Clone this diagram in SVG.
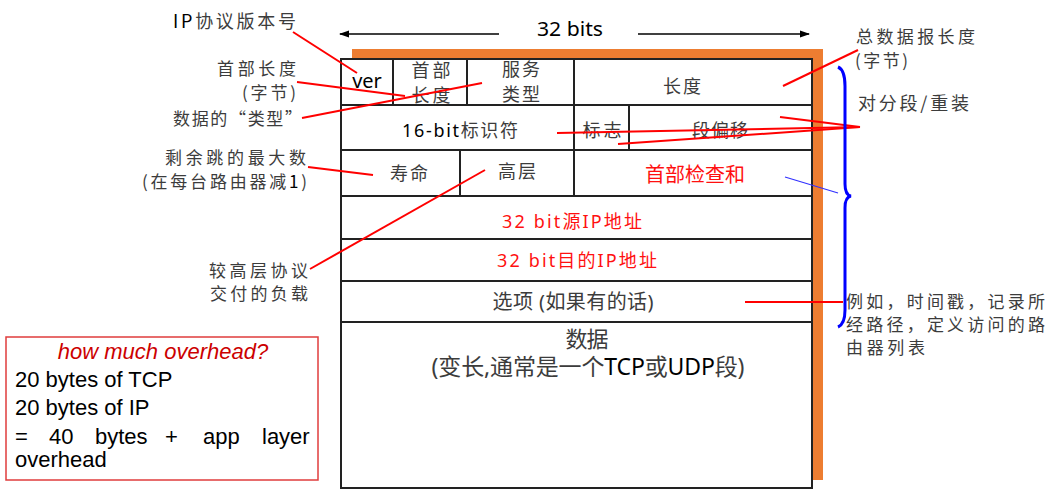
<svg xmlns="http://www.w3.org/2000/svg" width="1061" height="499" viewBox="0 0 1061 499">
<defs>
<marker id="arr" viewBox="0 0 10 10" refX="9" refY="5" markerWidth="10" markerHeight="10" markerUnits="userSpaceOnUse" orient="auto-start-reverse">
<path d="M0,1.5 L10,5 L0,8.5 z" fill="#000"/>
</marker>
<style>
.lbl{font-family:"Noto Sans CJK SC","Noto Sans",sans-serif;font-size:18px;fill:#3c3c3c}
.sm{font-size:17px}
.cell{font-family:"Noto Sans","Noto Sans CJK SC",sans-serif;font-size:18px;fill:#3c3c3c}
.lat{fill:#000}
.red{fill:#ff1010}
.grid{stroke:#222;stroke-width:2;fill:none}
.rl{stroke:#ff0000;stroke-width:2;fill:none}
.bl{stroke:#3030ff;stroke-width:1.2;fill:none}
.ov{font-family:"Liberation Sans",Arial,sans-serif;font-size:22px;fill:#000}
</style>
</defs>
<rect width="1061" height="499" fill="#fff"/>

<g id="header-box">
<rect x="352" y="49" width="471" height="431" fill="#ED7D31"/>
<rect x="341" y="59" width="471" height="429" fill="#fff" stroke="#222" stroke-width="2"/>
<path class="grid" d="M341,105H812M341,150H812M341,196H812M341,239H812M341,281H812M341,322H812"/>
<path class="grid" d="M393,59V105M467,59V105M574,59V196M629,105V150M460,150V196"/>
</g>

<g id="bits-width">
<line x1="499" y1="34" x2="340" y2="34" stroke="#000" stroke-width="1.5" marker-end="url(#arr)"/>
<line x1="638" y1="34" x2="809" y2="34" stroke="#000" stroke-width="1.5" marker-end="url(#arr)"/>
<text x="570" y="36" text-anchor="middle" class="cell lat" style="font-size:19px" textLength="66" lengthAdjust="spacingAndGlyphs">32 bits</text>
</g>

<g id="field-ver"><text x="367" y="88" text-anchor="middle" class="cell lat" style="font-size:20px">ver</text></g>
<g id="field-hlen">
<text x="431" y="77" text-anchor="middle" class="cell" textLength="39">首部</text>
<text x="431" y="102" text-anchor="middle" class="cell" textLength="39">长度</text>
</g>
<g id="field-tos">
<text x="521" y="76" text-anchor="middle" class="cell" textLength="38">服务</text>
<text x="521" y="101" text-anchor="middle" class="cell" textLength="38">类型</text>
</g>
<g id="field-length"><text x="682" y="93" text-anchor="middle" class="cell" textLength="38">长度</text></g>
<g id="field-id"><text x="460" y="137" text-anchor="middle" class="cell" textLength="116"><tspan class="lat">16-bit</tspan>标识符</text></g>
<g id="field-flags"><text x="602" y="137" text-anchor="middle" class="cell" textLength="39">标志</text></g>
<g id="field-offset"><text x="720" y="137" text-anchor="middle" class="cell" textLength="56">段偏移</text></g>
<g id="field-ttl"><text x="409" y="180" text-anchor="middle" class="cell" textLength="38">寿命</text></g>
<g id="field-proto"><text x="517" y="178" text-anchor="middle" class="cell" textLength="38">高层</text></g>
<g id="field-checksum"><text x="695" y="182" text-anchor="middle" class="cell red" style="font-size:20px" textLength="100">首部检查和</text></g>
<g id="field-src"><text x="572" y="228" text-anchor="middle" class="cell red" textLength="140">32 bit源IP地址</text></g>
<g id="field-dst"><text x="577" y="267" text-anchor="middle" class="cell red" textLength="160">32 bit目的IP地址</text></g>
<g id="field-options"><text x="573" y="309" text-anchor="middle" class="cell" style="font-size:20px" textLength="161">选项 (如果有的话)</text></g>
<g id="field-data">
<text x="587" y="347" text-anchor="middle" class="cell" style="font-size:22px" textLength="43">数据</text>
<text x="588" y="375" text-anchor="middle" class="cell" style="font-size:23px" textLength="313">(变长,通常是一个<tspan class="lat">TCP</tspan>或<tspan class="lat">UDP</tspan>段)</text>
</g>

<g id="label-version"><text x="296" y="28" text-anchor="end" class="lbl" textLength="123"><tspan class="lat">IP</tspan>协议版本号</text></g>
<g id="label-hlen">
<text x="296" y="75" text-anchor="end" class="lbl sm" textLength="79">首部长度</text>
<text x="296" y="99" text-anchor="end" class="lbl sm" textLength="54">(字节)</text>
</g>
<g id="label-tos"><text x="302" y="125" text-anchor="end" class="lbl sm" textLength="129">数据的“类型”</text></g>
<g id="label-ttl">
<text x="306" y="164" text-anchor="end" class="lbl sm" textLength="141">剩余跳的最大数</text>
<text x="307" y="188" text-anchor="end" class="lbl sm" textLength="165">(在每台路由器减<tspan class="lat">1</tspan>)</text>
</g>
<g id="label-proto">
<text x="308" y="277" text-anchor="end" class="lbl sm" textLength="99">较高层协议</text>
<text x="308" y="300" text-anchor="end" class="lbl sm" textLength="98">交付的负载</text>
</g>
<g id="label-length">
<text x="856" y="43" class="lbl sm" textLength="119">总数据报长度</text>
<text x="855" y="67" class="lbl sm" textLength="53">(字节)</text>
</g>
<g id="label-frag"><text x="858" y="110" class="lbl" textLength="111">对分段/重装</text></g>
<g id="label-options">
<text x="846" y="308" class="lbl sm" textLength="199">例如，时间戳，记录所</text>
<text x="846" y="331" class="lbl sm" textLength="199">经路径，定义访问的路</text>
<text x="846" y="354" class="lbl sm" textLength="79">由器列表</text>
</g>

<g id="overhead-box">
<rect x="6" y="337" width="312" height="143" fill="#fff" stroke="#e03c3c" stroke-width="1.5"/>
<text x="163" y="359" text-anchor="middle" class="ov" font-style="italic" style="fill:#cc0000">how much overhead?</text>
<text x="15" y="387" class="ov">20 bytes of TCP</text>
<text x="15" y="415" class="ov">20 bytes of IP</text>
<text y="444" class="ov"><tspan x="15">=</tspan><tspan x="49">40</tspan><tspan x="95">bytes</tspan><tspan x="165">+</tspan><tspan x="203">app</tspan><tspan x="262">layer</tspan></text>
<text x="15" y="467" class="ov">overhead</text>
</g>

<g id="connectors">
<line class="rl" x1="293" y1="32" x2="357" y2="73"/>
<line class="rl" x1="297" y1="82" x2="405" y2="96"/>
<line class="rl" x1="302" y1="118" x2="482" y2="83"/>
<line class="rl" x1="308" y1="167" x2="373" y2="175"/>
<line class="rl" x1="310" y1="269" x2="485" y2="170"/>
<line class="rl" x1="858" y1="50" x2="783" y2="86"/>
<line class="rl" x1="860" y1="127" x2="780" y2="117"/>
<line class="rl" x1="860" y1="127" x2="557" y2="133"/>
<line class="rl" x1="860" y1="127" x2="618" y2="144"/>
<line class="rl" x1="745" y1="302" x2="843" y2="302"/>
<line class="bl" x1="785" y1="177" x2="838" y2="193"/>
<path d="M838,67 Q845,70 845,86 L845,184 Q845,195 851,196 Q845,197 845,208 L845,310 Q845,324 838,327" fill="none" stroke="#0000ff" stroke-width="3"/>
</g>
</svg>
